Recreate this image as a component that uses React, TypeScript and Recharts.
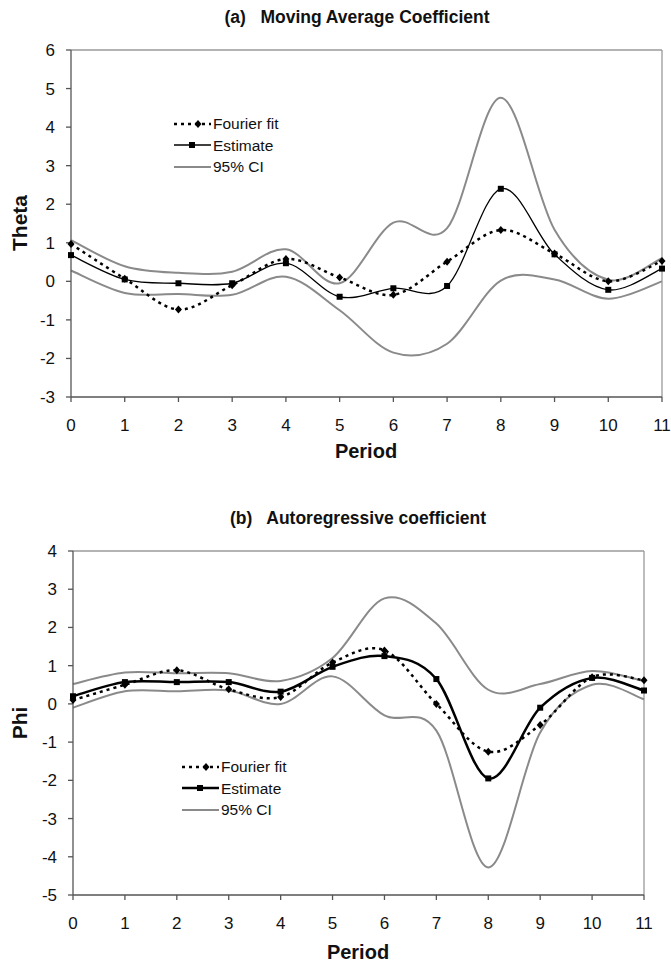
import React from "react";
import { LineChart, Line, XAxis, YAxis, ReferenceLine, Legend } from "recharts";

const periods = [0, 1, 2, 3, 4, 5, 6, 7, 8, 9, 10, 11];

// (a) moving average coefficient
const thetaFourier = [0.97, 0.07, -0.73, -0.1, 0.58, 0.1, -0.35, 0.51, 1.33, 0.72, 0.0, 0.53];
const thetaEstimate = [0.68, 0.05, -0.05, -0.05, 0.47, -0.4, -0.18, -0.12, 2.4, 0.7, -0.22, 0.33];
const thetaUpper = [1.07, 0.39, 0.22, 0.25, 0.83, -0.05, 1.52, 1.38, 4.76, 1.34, 0.04, 0.6];
const thetaLower = [0.28, -0.3, -0.33, -0.35, 0.12, -0.75, -1.85, -1.62, 0.02, 0.05, -0.45, 0.0];
const thetaTicks = [-3, -2, -1, 0, 1, 2, 3, 4, 5, 6];

// (b) autoregressive coefficient
const phiFourier = [0.1, 0.5, 0.88, 0.38, 0.18, 1.08, 1.4, 0.0, -1.25, -0.55, 0.7, 0.62];
const phiEstimate = [0.2, 0.57, 0.57, 0.57, 0.32, 0.97, 1.25, 0.65, -1.95, -0.1, 0.68, 0.35];
const phiUpper = [0.52, 0.82, 0.8, 0.8, 0.6, 1.2, 2.76, 2.1, 0.37, 0.52, 0.86, 0.6];
const phiLower = [-0.1, 0.33, 0.33, 0.35, 0.0, 0.72, -0.3, -0.7, -4.28, -0.75, 0.5, 0.12];
const phiTicks = [-5, -4, -3, -2, -1, 0, 1, 2, 3, 4];

const FONT = '"Liberation Sans", Arial, Helvetica, sans-serif';
const CI_COLOR = "#8a8a8a";

// Excel-style smoothed line (Catmull-Rom through the points)
const smooth = (context: any) => {
  let pts: number[][] = [];
  return {
    areaStart() {},
    areaEnd() {},
    lineStart() {
      pts = [];
    },
    point(x: number, y: number) {
      pts.push([+x, +y]);
    },
    lineEnd() {
      const n = pts.length;
      if (!n) return;
      context.moveTo(pts[0][0], pts[0][1]);
      for (let i = 0; i < n - 1; i++) {
        const p0 = pts[Math.max(i - 1, 0)];
        const p1 = pts[i];
        const p2 = pts[i + 1];
        const p3 = pts[Math.min(i + 2, n - 1)];
        context.bezierCurveTo(
          p1[0] + (p2[0] - p0[0]) / 6,
          p1[1] + (p2[1] - p0[1]) / 6,
          p2[0] - (p3[0] - p1[0]) / 6,
          p2[1] - (p3[1] - p1[1]) / 6,
          p2[0],
          p2[1]
        );
      }
    },
  };
};

const diamond = (p: any) => (
  <path
    key={`dm-${p.index}`}
    d={`M${p.cx},${p.cy - 4}L${p.cx + 3.5},${p.cy}L${p.cx},${p.cy + 4}L${p.cx - 3.5},${p.cy}Z`}
    fill="#000"
  />
);

const square = (p: any) => (
  <rect key={`sq-${p.index}`} x={p.cx - 3} y={p.cy - 3} width={6} height={6} fill="#000" />
);

function LegendBox({ estWidth }: { estWidth: number }) {
  const row = { display: "flex", alignItems: "center", height: 21.5 } as const;
  const txt = { fontFamily: FONT, fontSize: 15.5, color: "#111", marginLeft: 2, lineHeight: 1 };
  return (
    <div>
      <div style={row}>
        <svg width={37} height={12}>
          <line x1={0} y1={6} x2={37} y2={6} stroke="#000" strokeWidth={2.5} strokeDasharray="3 4" />
          <path d="M24,2L27.5,6L24,10L20.5,6Z" fill="#000" />
        </svg>
        <span style={txt}>Fourier fit</span>
      </div>
      <div style={row}>
        <svg width={37} height={12}>
          <line x1={0} y1={6} x2={37} y2={6} stroke="#000" strokeWidth={estWidth} />
          <rect x={15} y={3} width={6} height={6} fill="#000" />
        </svg>
        <span style={txt}>Estimate</span>
      </div>
      <div style={row}>
        <svg width={37} height={12}>
          <line x1={0} y1={6} x2={37} y2={6} stroke={CI_COLOR} strokeWidth={2} />
        </svg>
        <span style={txt}>95% CI</span>
      </div>
    </div>
  );
}

type PanelProps = {
  top: number;
  height: number;
  margin: { top: number; right: number; left: number; bottom: number };
  fourier: number[];
  estimate: number[];
  upper: number[];
  lower: number[];
  ticks: number[];
  estWidth: number;
  legendPos: { left: number; top: number };
};

function Panel(props: PanelProps) {
  const data = periods.map((p, i) => ({
    period: p,
    fourier: props.fourier[i],
    estimate: props.estimate[i],
    upper: props.upper[i],
    lower: props.lower[i],
  }));
  const lo = props.ticks[0];
  const hi = props.ticks[props.ticks.length - 1];
  const tickStyle = { fontFamily: FONT, fontSize: 17, fill: "#111" };
  return (
    <div style={{ position: "absolute", left: 0, top: props.top }}>
      <LineChart width={671} height={props.height} data={data} margin={props.margin}>
        <XAxis
          dataKey="period"
          type="number"
          domain={[0, 11]}
          ticks={periods}
          interval={0}
          height={60}
          tickSize={5}
          tickMargin={17}
          tick={tickStyle}
          stroke="#555"
          strokeWidth={1.3}
        />
        <YAxis
          type="number"
          domain={[lo, hi]}
          ticks={props.ticks}
          interval={0}
          width={50}
          tickSize={5}
          tickMargin={11}
          tick={tickStyle}
          stroke="#555"
          strokeWidth={1.3}
        />
        <ReferenceLine y={hi} stroke="#9a9a9a" strokeWidth={1.3} />
        <ReferenceLine x={11} stroke="#9a9a9a" strokeWidth={1.3} />
        <Line
          dataKey="upper"
          name="95% CI"
          type={smooth as any}
          stroke={CI_COLOR}
          strokeWidth={2}
          dot={false}
          isAnimationActive={false}
        />
        <Line
          dataKey="lower"
          name="95% CI lower"
          type={smooth as any}
          stroke={CI_COLOR}
          strokeWidth={2}
          dot={false}
          legendType="none"
          isAnimationActive={false}
        />
        <Line
          dataKey="estimate"
          name="Estimate"
          type={smooth as any}
          stroke="#000"
          strokeWidth={props.estWidth}
          dot={square}
          isAnimationActive={false}
        />
        <Line
          dataKey="fourier"
          name="Fourier fit"
          type={smooth as any}
          stroke="#000"
          strokeWidth={2.5}
          strokeDasharray="3 4"
          dot={diamond}
          isAnimationActive={false}
        />
        <Legend
          layout="vertical"
          align="center"
          verticalAlign="middle"
          wrapperStyle={{ left: props.legendPos.left, top: props.legendPos.top, width: 160 }}
          content={() => <LegendBox estWidth={props.estWidth} />}
        />
      </LineChart>
    </div>
  );
}

const titleStyle = (x: number, y: number, size: number, rotate = false): React.CSSProperties => ({
  position: "absolute",
  left: x,
  top: y,
  transform: `translate(-50%, -50%)${rotate ? " rotate(-90deg)" : ""}`,
  fontFamily: FONT,
  fontWeight: "bold",
  fontSize: size,
  lineHeight: 1,
  whiteSpace: "pre",
  color: "#111",
});

export default function App() {
  return (
    <div style={{ position: "absolute", left: 0, top: 0, width: 671, height: 965, background: "#fff" }}>
      <Panel
        top={0}
        height={480}
        margin={{ top: 50, right: 9, left: 21, bottom: 23 }}
        fourier={thetaFourier}
        estimate={thetaEstimate}
        upper={thetaUpper}
        lower={thetaLower}
        ticks={thetaTicks}
        estWidth={1.3}
        legendPos={{ left: 174, top: 113 }}
      />
      <Panel
        top={480}
        height={485}
        margin={{ top: 71, right: 27, left: 23, bottom: 10 }}
        fourier={phiFourier}
        estimate={phiEstimate}
        upper={phiUpper}
        lower={phiLower}
        ticks={phiTicks}
        estWidth={2.5}
        legendPos={{ left: 182, top: 276 }}
      />
      <div style={titleStyle(357, 18, 17.5)}>{"(a)   Moving Average Coefficient"}</div>
      <div style={titleStyle(19, 223, 21, true)}>Theta</div>
      <div style={titleStyle(366, 451, 20)}>Period</div>
      <div style={titleStyle(358, 519, 17.5)}>{"(b)   Autoregressive coefficient"}</div>
      <div style={titleStyle(19, 723, 21, true)}>Phi</div>
      <div style={titleStyle(358, 952, 20)}>Period</div>
    </div>
  );
}
